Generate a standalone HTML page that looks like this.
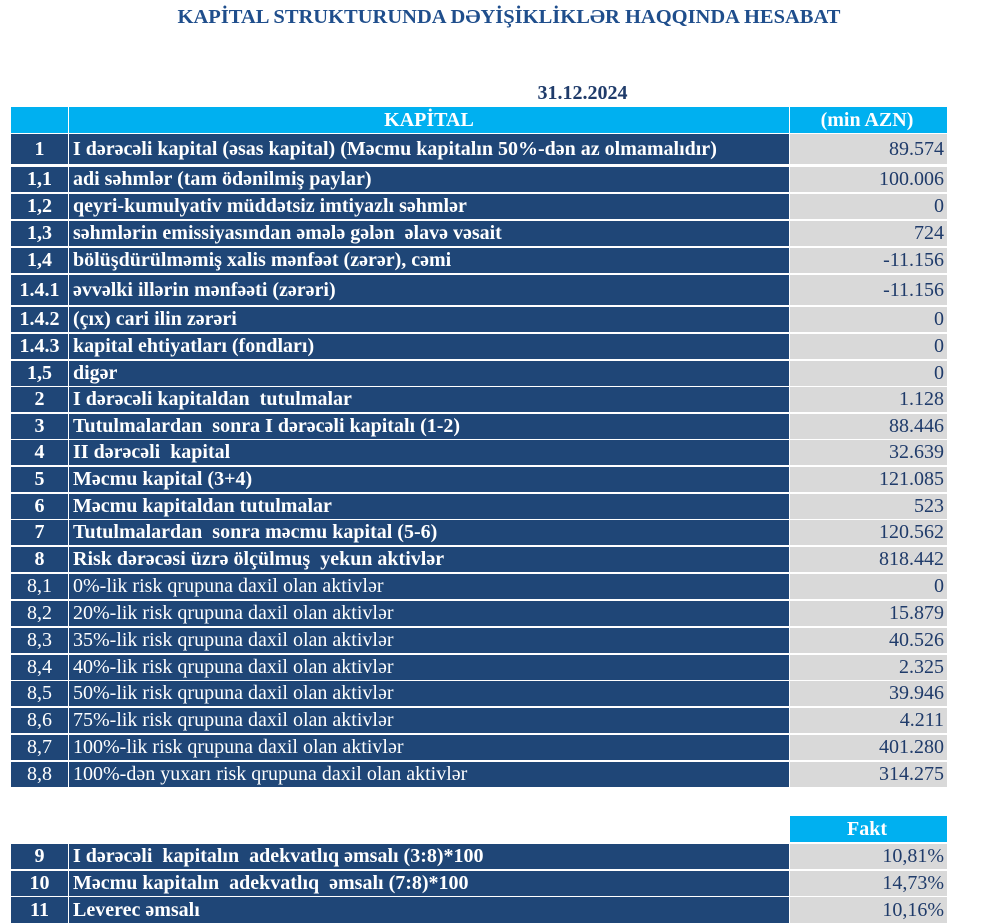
<!DOCTYPE html>
<html><head><meta charset="utf-8"><style>
body{margin:0;width:1000px;height:924px;background:#fff;position:relative;overflow:hidden;font-family:"Liberation Serif",serif;}
.t{position:absolute;left:0;width:1018px;text-align:center;top:6px;font-weight:bold;font-size:20.5px;color:#1f4e8c;}
.d{position:absolute;left:520px;width:125px;text-align:center;top:82px;font-weight:bold;font-size:20px;color:#1f3b6a;}
.c{position:absolute;box-sizing:border-box;display:flex;align-items:center;font-size:20px;}
.a{left:11px;width:57px;background:#1f4677;color:#fff;font-weight:bold;justify-content:center;}
.b{left:69px;width:720px;background:#1f4677;color:#fff;font-weight:bold;padding-left:4px;white-space:pre;}
.n{font-weight:normal;}
.v{left:790px;width:157px;background:#d9d9d9;color:#1f3b6a;justify-content:flex-end;padding-right:3px;}
.h{background:#00b0f0;color:#fff;font-weight:bold;justify-content:center;}
</style></head><body>
<div class="t">KAPİTAL STRUKTURUNDA DƏYİŞİKLİKLƏR HAQQINDA HESABAT</div>
<div class="d">31.12.2024</div>
<div class="c a h" style="top:107px;height:26px"></div>
<div class="c b h" style="top:107px;height:26px;justify-content:center;padding:0">KAPİTAL</div>
<div class="c v h" style="top:107px;height:26px;justify-content:center">(min AZN)</div>
<div id="rows"></div>
<script>
var R=[[134,31,"1","I dərəcəli kapital (əsas kapital) (Məcmu kapitalın 50%-dən az olmamalıdır)","89.574",0],
[167,26,"1,1","adi səhmlər (tam ödənilmiş paylar)","100.006",0],
[194,26,"1,2","qeyri-kumulyativ müddətsiz imtiyazlı səhmlər","0",0],
[221,26,"1,3","səhmlərin emissiyasından əmələ gələn  əlavə vəsait","724",0],
[248,26,"1,4","bölüşdürülməmiş xalis mənfəət (zərər), cəmi","-11.156",0],
[275,31,"1.4.1","əvvəlki illərin mənfəəti (zərəri)","-11.156",0],
[307,26,"1.4.2","(çıx) cari ilin zərəri","0",0],
[334,26,"1.4.3","kapital ehtiyatları (fondları)","0",0],
[361,26,"1,5","digər","0",0],
[387,26,"2","I dərəcəli kapitaldan  tutulmalar","1.128",0],
[414,26,"3","Tutulmalardan  sonra I dərəcəli kapitalı (1-2)","88.446",0],
[440,26,"4","II dərəcəli  kapital","32.639",0],
[467,26,"5","Məcmu kapital (3+4)","121.085",0],
[494,26,"6","Məcmu kapitaldan tutulmalar","523",0],
[520,26,"7","Tutulmalardan  sonra məcmu kapital (5-6)","120.562",0],
[547,26,"8","Risk dərəcəsi üzrə ölçülmuş  yekun aktivlər","818.442",0],
[574,26,"8,1","0%-lik risk qrupuna daxil olan aktivlər","0",1],
[601,26,"8,2","20%-lik risk qrupuna daxil olan aktivlər","15.879",1],
[628,26,"8,3","35%-lik risk qrupuna daxil olan aktivlər","40.526",1],
[655,26,"8,4","40%-lik risk qrupuna daxil olan aktivlər","2.325",1],
[681,26,"8,5","50%-lik risk qrupuna daxil olan aktivlər","39.946",1],
[708,26,"8,6","75%-lik risk qrupuna daxil olan aktivlər","4.211",1],
[735,26,"8,7","100%-lik risk qrupuna daxil olan aktivlər","401.280",1],
[762,26,"8,8","100%-dən yuxarı risk qrupuna daxil olan aktivlər","314.275",1],
[844,26,"9","I dərəcəli  kapitalın  adekvatlıq əmsalı (3:8)*100","10,81%",0],
[871,26,"10","Məcmu kapitalın  adekvatlıq  əmsalı (7:8)*100","14,73%",0],
[897,27,"11","Leverec əmsalı","10,16%",0]];
var h="";R.forEach(function(r){var s='top:'+r[0]+'px;height:'+(r[1]-1)+'px';var n=r[5]?' n':'';
h+='<div class="c a'+n+'" style="'+s+'">'+r[2]+'</div><div class="c b'+n+'" style="'+s+'">'+r[3]+'</div><div class="c v" style="'+s+'">'+r[4]+'</div>';});
h+='<div class="c v h" style="top:816px;height:26px">Fakt</div>';
document.getElementById("rows").innerHTML=h;
</script>
</body></html>
